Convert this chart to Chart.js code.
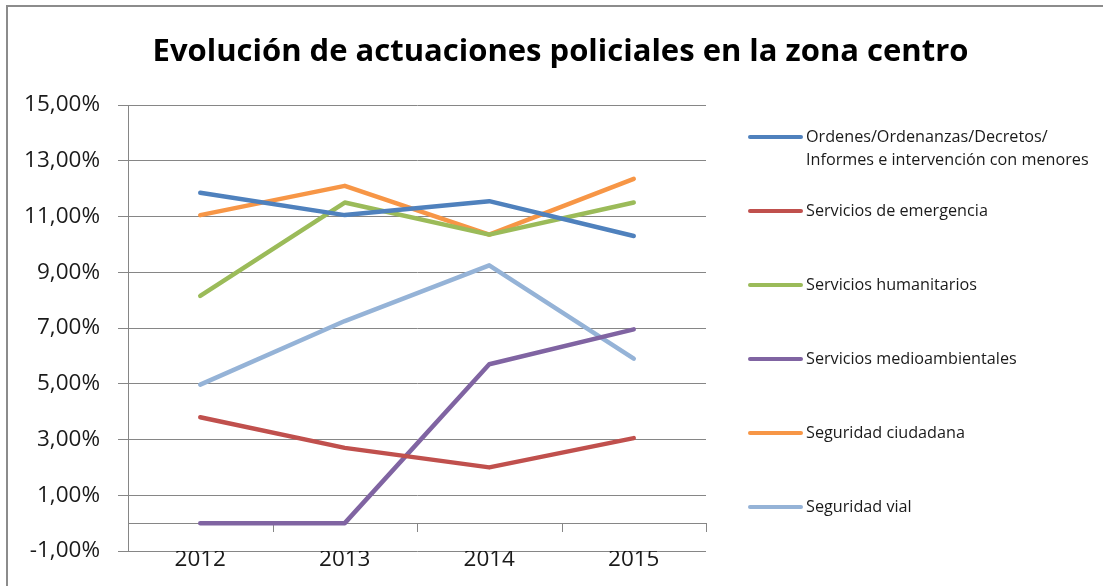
<!DOCTYPE html>
<html>
<head>
<meta charset="utf-8">
<script src="https://cdn.jsdelivr.net/npm/chart.js@4.4.1/dist/chart.umd.min.js"></script>
<style>
  html, body { margin: 0; padding: 0; background: #fff; }
  body { width: 1103px; height: 586px; position: relative; overflow: hidden; font-family: "Open Sans", sans-serif; }
  #frame { position: absolute; left: 6px; top: 5px; width: 1200px; height: 700px; border: 2px solid #8c8c8c; box-sizing: border-box; }
  #wrap { position: absolute; left: 0; top: 0; width: 1103px; height: 586px; }
  #title { position: absolute; left: 0; width: 1103px; top: 34px; line-height: 1; text-align: center; font-weight: 700; font-size: 31px; color: #000; white-space: nowrap; padding-left: 18px; box-sizing: border-box; }
  #legend { position: absolute; left: 748px; top: 0; }
  .item { position: absolute; left: 0; white-space: nowrap; }
  .swatch { position: absolute; left: 0; width: 55px; height: 4px; border-radius: 2px; }
  .txt { position: absolute; left: 58px; font-size: 16.2px; line-height: 23px; color: #1a1a1a; }
</style>
</head>
<body>
<div id="frame"></div>
<div id="wrap"><canvas id="c" width="1103" height="586"></canvas></div>
<div id="title">Evolución de actuaciones policiales en la zona centro</div>
<div id="legend"></div>
<script>
const categories = ["2012", "2013", "2014", "2015"];
const seriesNames = [
  ["Ordenes/Ordenanzas/Decretos/", "Informes e intervención con menores"],
  ["Servicios de emergencia"],
  ["Servicios humanitarios"],
  ["Servicios medioambientales"],
  ["Seguridad ciudadana"],
  ["Seguridad vial"]
];
const ordenes = [11.85, 11.05, 11.55, 10.3];
const emergencia = [3.8, 2.7, 2.0, 3.05];
const humanitarios = [8.15, 11.5, 10.35, 11.5];
const medioambientales = [0, 0, 5.7, 6.95];
const ciudadana = [11.05, 12.1, 10.35, 12.35];
const vial = [4.97, 7.25, 9.25, 5.9];
const seriesColors = ["#4F81BD", "#C0504D", "#9BBB59", "#8064A2", "#F79646", "#95B3D7"];
const yTicks = [-1, 1, 3, 5, 7, 9, 11, 13, 15];

const allValues = [ordenes, emergencia, humanitarios, medioambientales, ciudadana, vial];

const zeroAxis = {
  id: 'zeroAxis',
  beforeDatasetsDraw(chart) {
    const { ctx, chartArea, scales } = chart;
    const y0 = Math.round(scales.y.getPixelForValue(0));
    ctx.save();
    ctx.strokeStyle = '#868686';
    ctx.lineWidth = 1;
    ctx.beginPath();
    ctx.moveTo(chartArea.left, y0 + 0.5);
    ctx.lineTo(chartArea.right, y0 + 0.5);
    for (let i = 0; i <= categories.length; i++) {
      const x = Math.round(scales.x.getPixelForValue(i - 0.5)) + 0.5;
      ctx.moveTo(x, y0);
      ctx.lineTo(x, y0 + 9);
    }
    ctx.stroke();
    ctx.restore();
  }
};

const chart = new Chart(document.getElementById('c'), {
  type: 'line',
  data: {
    labels: categories,
    datasets: allValues.map((vals, i) => ({
      label: seriesNames[i].join(' '),
      data: vals,
      borderColor: seriesColors[i],
      backgroundColor: seriesColors[i],
      borderWidth: 4.5,
      pointRadius: 0,
      borderCapStyle: 'round',
      borderJoinStyle: 'round',
      tension: 0,
      fill: false
    }))
  },
  options: {
    responsive: false,
    animation: false,
    devicePixelRatio: 1,
    layout: { padding: { left: 20, right: 397, top: 105, bottom: 0 } },
    plugins: { legend: { display: false }, title: { display: false }, tooltip: { enabled: false } },
    scales: {
      x: {
        offset: true,
        afterFit(scale) { scale.height = 35; },
        grid: { display: false, drawTicks: false },
        border: { display: false },
        ticks: { color: '#1a1a1a', font: { family: 'Open Sans', size: 22.5 }, padding: -5 }
      },
      y: {
        min: -1, max: 15,
        afterBuildTicks(scale) { scale.ticks = yTicks.map(v => ({ value: v })); },
        afterFit(scale) { scale.width = 108; },
        grid: { color: '#868686', lineWidth: 1, tickLength: 10, drawTicks: true },
        border: { display: true, color: '#868686', width: 1 },
        ticks: {
          color: '#1a1a1a', font: { family: 'Open Sans', size: 22.5 }, padding: 18,
          callback: v => v.toFixed(2).replace('.', ',') + '%'
        }
      }
    }
  },
  plugins: [zeroAxis]
});

// legend built from datasets
const legend = document.getElementById('legend');
const legendTops = [137, 211, 285, 359, 433, 507];
chart.data.datasets.forEach((ds, i) => {
  const item = document.createElement('div');
  item.className = 'item';
  item.style.top = legendTops[i] + 'px';
  const sw = document.createElement('div');
  sw.className = 'swatch';
  sw.style.background = ds.borderColor;
  sw.style.top = '-2px';
  const tx = document.createElement('div');
  tx.className = 'txt';
  tx.style.top = '-12px';
  tx.innerHTML = seriesNames[i].join('<br>');
  item.appendChild(sw); item.appendChild(tx);
  legend.appendChild(item);
});
</script>
</body>
</html>
